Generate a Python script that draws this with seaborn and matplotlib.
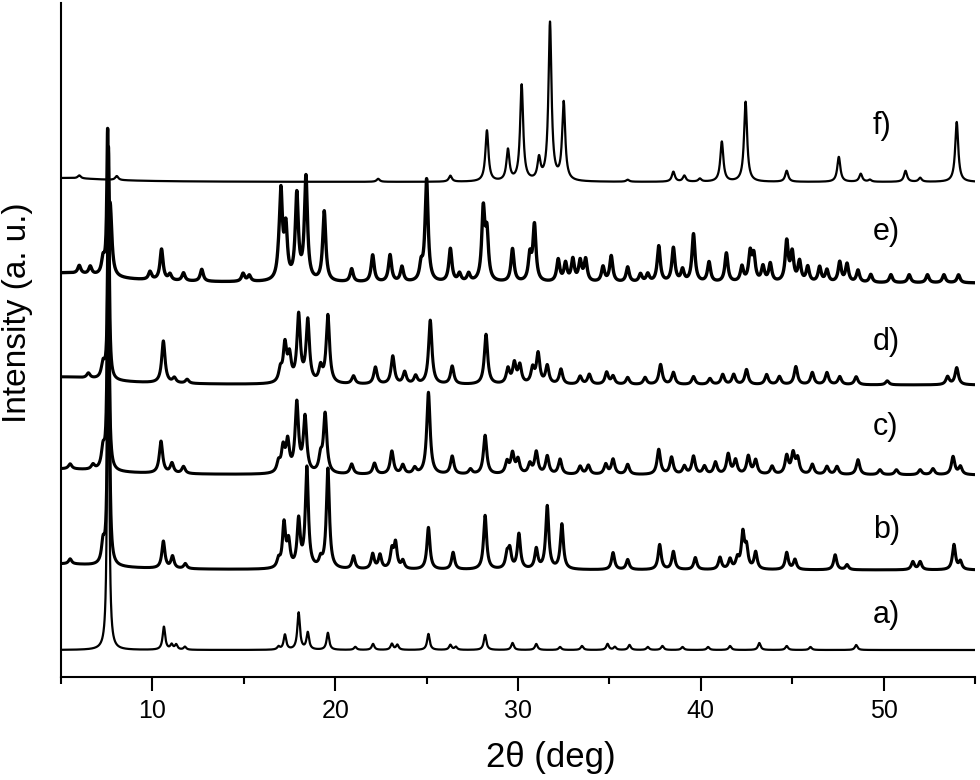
import numpy as np
import matplotlib
matplotlib.use("Agg")
import matplotlib.pyplot as plt
import seaborn as sns
import pandas as pd

# ---------------- data (peak positions in 2theta deg, heights in a.u.) ----------------
pos_a = [7.58, 10.63, 11.05, 11.3, 11.78, 16.9, 17.25, 18.0, 18.5, 19.6, 21.1, 22.07, 23.1, 23.4,
         25.1, 26.3, 26.6, 28.2, 29.7, 31.0, 32.3, 33.5, 34.9, 35.3, 36.1, 37.1, 37.9, 39.0,
         40.4, 41.6, 43.2, 44.7, 46.0, 48.5]
int_a = [498, 23, 5, 5, 3, 3, 15, 37, 17, 17, 3, 6, 6, 5,
         16, 5, 3, 15, 7, 6, 3, 4, 6, 3, 5, 3, 4, 3,
         3, 4, 7, 4, 3, 5]

pos_b = [5.5, 7.3, 7.6, 10.6, 11.1, 11.8, 16.9, 17.2, 17.45, 18.0, 18.45, 19.2, 19.6, 21.0, 22.05,
         22.45, 23.1, 23.3, 23.7, 25.1, 26.45, 28.2, 29.4, 29.55, 30.05, 31.0, 31.6, 32.4, 35.2,
         36.0, 37.75, 38.5, 39.7, 41.05, 41.6, 42.0, 42.3, 42.5, 43.0, 44.7, 45.15, 47.35, 48.0,
         51.6, 52.0, 53.85, 54.2]
int_b = [5, 20, 418, 27, 12, 5, 8, 44, 25, 47, 100, 8, 100, 13, 15,
         14, 18, 25, 8, 42, 17, 54, 14, 18, 35, 20, 63, 45, 17,
         10, 25, 18, 12, 12, 10, 10, 35, 20, 17, 17, 10, 15, 5,
         8, 8, 25, 8]

pos_c = [5.5, 6.75, 7.3, 7.58, 10.47, 11.07, 11.7, 16.9, 17.15, 17.4, 17.9, 18.35, 19.2, 19.45,
         20.9, 22.15, 23.1, 23.7, 24.35, 25.1, 26.4, 27.4, 28.2, 29.4, 29.7, 30.0, 30.65, 31.0,
         31.6, 32.3, 33.4, 33.85, 34.8, 35.2, 36.0, 37.7, 38.4, 39.1, 39.6, 40.2, 40.8, 41.5,
         41.9, 42.6, 43.0, 43.9, 44.7, 45.05, 45.3, 46.1, 46.9, 47.45, 48.6, 49.8, 50.7, 52.0,
         52.7, 53.8, 54.2]
int_c = [5, 5, 20, 323, 32, 10, 7, 10, 24, 30, 69, 55, 15, 59,
         10, 11, 23, 9, 6, 82, 18, 5, 39, 12, 20, 14, 10, 22,
         18, 15, 8, 9, 10, 15, 10, 25, 17, 8, 18, 8, 12, 20,
         14, 18, 14, 8, 18, 20, 15, 10, 8, 8, 15, 5, 5, 5,
         6, 18, 8]

pos_d = [6.5, 7.3, 7.6, 10.6, 11.2, 11.9, 17.0, 17.25, 17.5, 18.0, 18.5, 19.2, 19.6, 21.0, 22.2,
         23.15, 23.8, 24.4, 25.2, 26.4, 28.25, 29.45, 29.8, 30.1, 30.8, 31.1, 31.6, 32.35, 33.4,
         33.9, 34.85, 35.2, 36.0, 36.95, 37.8, 38.5, 39.6, 40.5, 41.2, 41.8, 42.5, 43.6, 44.3,
         45.2, 46.1, 46.9, 47.6, 48.5, 50.2, 53.5, 54.0]
int_d = [5, 15, 231, 42, 5, 4, 12, 37, 25, 67, 62, 15, 68, 8, 17,
         28, 12, 8, 64, 18, 50, 15, 20, 18, 15, 30, 18, 15, 8,
         10, 12, 8, 7, 7, 20, 12, 8, 6, 10, 10, 15, 10, 8,
         18, 12, 12, 8, 8, 4, 8, 17]

pos_e = [6.0, 6.6, 7.3, 7.55, 7.7, 9.87, 10.5, 10.96, 11.7, 12.7, 14.96, 15.3, 16.9, 17.03, 17.3,
         17.9, 18.4, 19.4, 20.9, 22.05, 23.0, 23.65, 24.7, 25.0, 26.3, 26.8, 27.3, 28.1, 28.3,
         29.7, 30.65, 30.9, 32.2, 32.6, 33.0, 33.4, 33.7, 34.65, 35.1, 36.0, 36.7, 37.1, 37.7,
         38.5, 39.0, 39.6, 40.45, 41.4, 42.25, 42.7, 42.9, 43.4, 43.8, 44.7, 45.0, 45.4, 45.85,
         46.5, 46.9, 47.6, 48.0, 48.6, 49.3, 50.4, 51.4, 52.4, 53.3, 54.1]
int_e = [8, 8, 15, 128, 60, 8, 31, 6, 8, 12, 8, 6, 8, 86, 50,
         85, 103, 70, 13, 27, 27, 15, 15, 102, 33, 8, 8, 70, 45,
         33, 25, 56, 22, 18, 22, 20, 22, 15, 26, 15, 8, 8, 36,
         34, 12, 48, 20, 29, 15, 28, 25, 15, 18, 40, 28, 20, 15,
         15, 12, 20, 18, 12, 8, 8, 8, 8, 8, 8]

pos_f = [6.0, 8.05, 22.35, 26.3, 28.3, 29.45, 30.2, 31.15, 31.75, 32.5, 36.0, 38.5, 39.1, 39.95,
         41.15, 42.45, 44.7, 47.55, 48.75, 49.25, 51.2, 52.0, 54.0]
int_f = [3, 4, 3, 6, 51, 31, 96, 21, 158, 78, 2, 10, 6, 3,
         40, 80, 11, 25, 8, 2, 11, 4, 60]

labels = ["a)", "b)", "c)", "d)", "e)", "f)"]
offsets = [27, 107, 202, 292, 394, 495]
hump = [0, 6, 6, 8, 10, 4]          # low-angle background hump height
fwhm = [0.17, 0.2, 0.22, 0.22, 0.2, 0.2]
fwhm_main = [0.1, 0.1, 0.1, 0.1, 0.1, 0.2]   # width of the strongest (~7.6 deg) reflection
lws = [1.6, 2.2, 2.2, 2.2, 2.4, 1.6]

x_ticks = [10, 20, 30, 40, 50]

# ---------------- build profiles ----------------
tt = np.linspace(5, 55, 6001)
peaks = [(pos_a, int_a), (pos_b, int_b), (pos_c, int_c), (pos_d, int_d), (pos_e, int_e), (pos_f, int_f)]


def profile(p, h, w, wmain):
    y = np.zeros_like(tt)
    hmax = max(h)
    for pi, hi in zip(p, h):
        g = (wmain if hi == hmax else w) / 2.0
        y += hi * g ** 2 / ((tt - pi) ** 2 + g ** 2)
    return y


frames = []
for lab, (p, h), off, hb, w, wm in zip(labels, peaks, offsets, hump, fwhm, fwhm_main):
    y = profile(p, h, w, wm) + off + hb * 9.0 / ((tt - 5.0) ** 2 + 9.0)
    frames.append(pd.DataFrame({"2theta": tt, "I": y, "sample": lab}))
df = pd.concat(frames, ignore_index=True)

# ---------------- plot ----------------
sns.set_style("ticks")
plt.rcParams["font.family"] = ["Liberation Sans", "DejaVu Sans"]
plt.rcParams["text.color"] = "black"
plt.rcParams["axes.labelcolor"] = "black"
plt.rcParams["xtick.color"] = "black"
plt.rcParams["axes.edgecolor"] = "black"

fig = plt.figure(figsize=(9.8, 7.8), dpi=100)
ax = fig.add_axes([61 / 980, 1 - 677 / 780, (975 - 61) / 980, 674 / 780])

for lab, lw in zip(labels, lws):
    sns.lineplot(data=df[df["sample"] == lab], x="2theta", y="I", ax=ax,
                 color="black", lw=lw, legend=False, estimator=None, sort=False)

label_y = [615, 530, 427, 342, 232, 126]
for lab, ly in zip(labels, label_y):
    ax.text(49.4, 677 - ly, lab, fontsize=22, ha="left", va="center", color="black")

ax.set_xlim(5, 55)
ax.set_ylim(0, 674)
ax.set_xticks(x_ticks)
ax.set_xticks([5, 15, 25, 35, 45, 55], minor=True)
ax.set_yticks([])
ax.tick_params(axis="x", which="major", direction="out", length=10, width=1.5,
               labelsize=18, pad=6, colors="black")
ax.tick_params(axis="x", which="minor", direction="out", length=5, width=1.5, colors="black")
for s in ["top", "right"]:
    ax.spines[s].set_visible(False)
for s in ["left", "bottom"]:
    ax.spines[s].set_linewidth(1.5)
    ax.spines[s].set_color("black")
ax.set_xlabel("2θ (deg)", fontsize=25, color="black")
ax.xaxis.set_label_coords(0.536, -0.095)
ax.set_ylabel("Intensity (a. u.)", fontsize=24, color="black")
ax.yaxis.set_label_coords(-0.031, 0.54)

fig.savefig("out.png", dpi=100)
